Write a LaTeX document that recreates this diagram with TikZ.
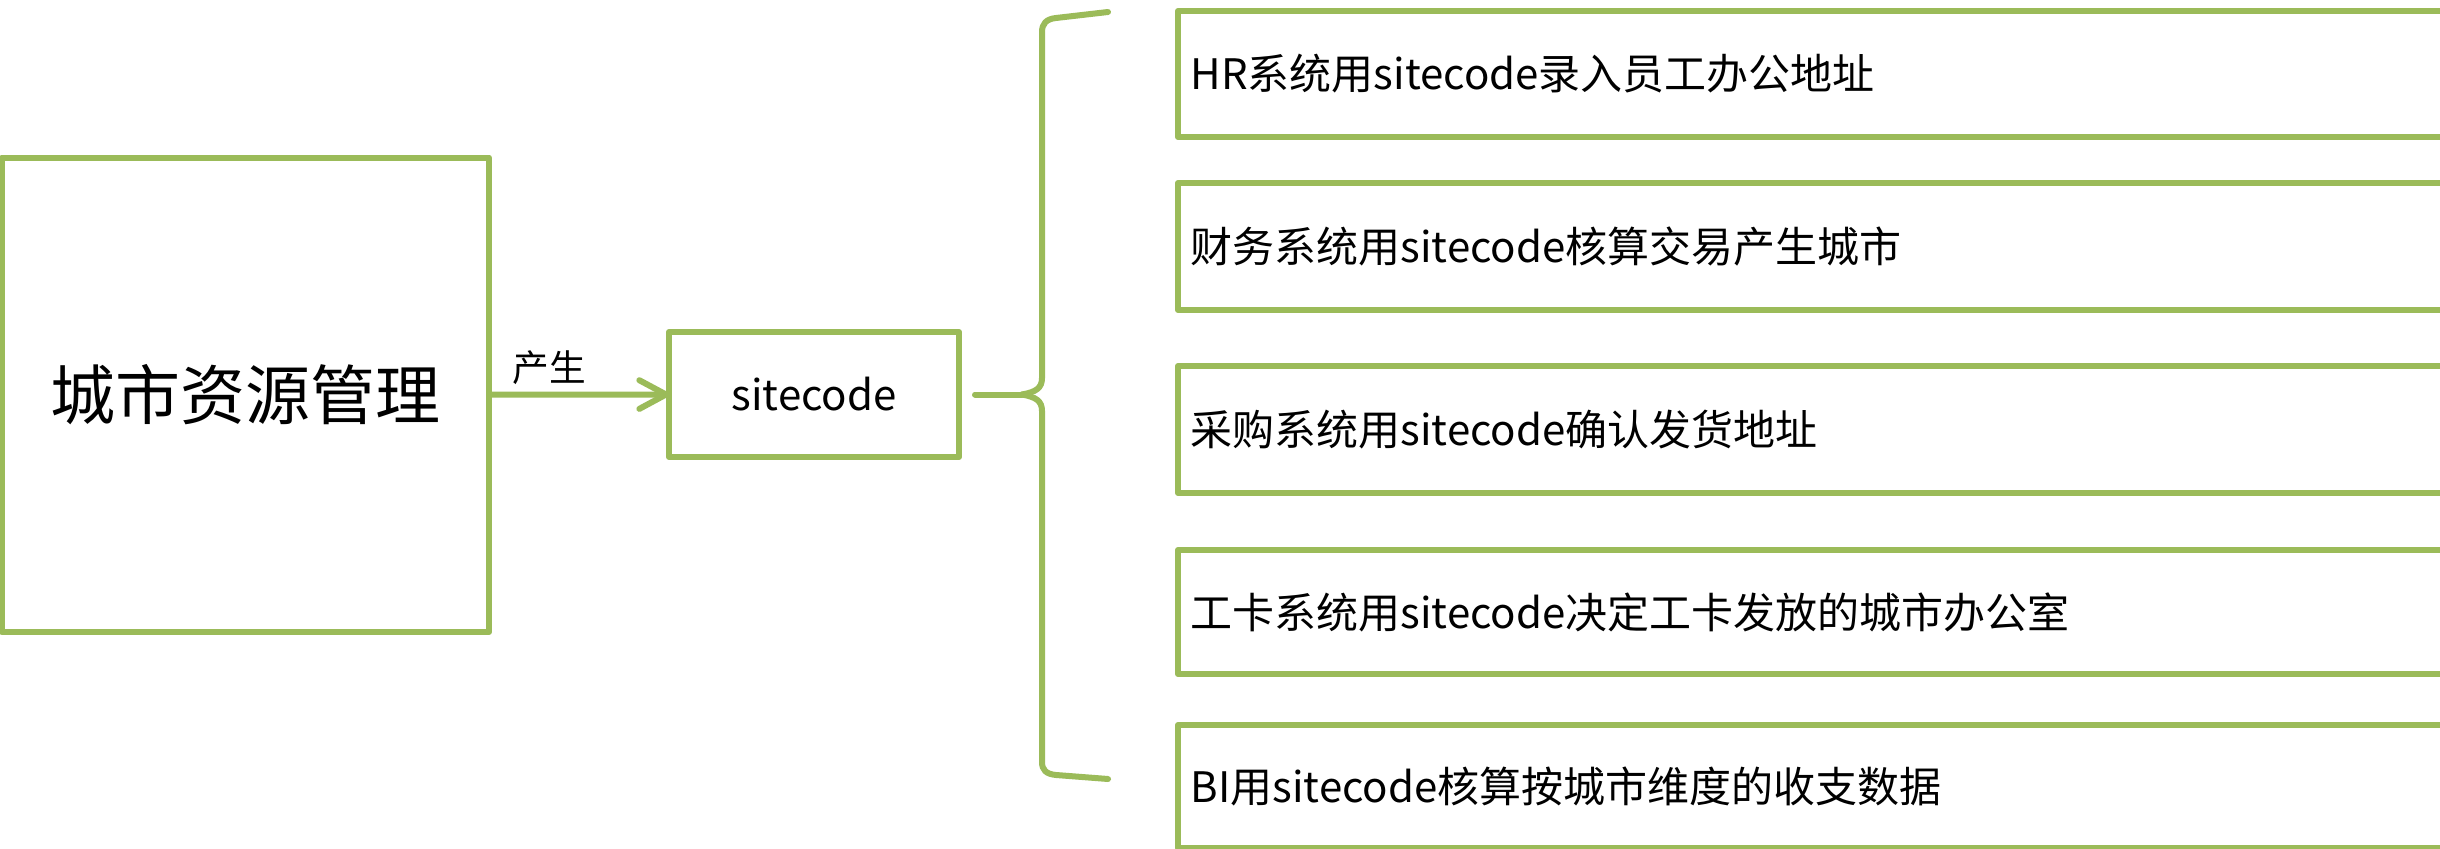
\documentclass[tikz,border=0pt]{standalone}
\usepackage{fontspec}
\setmainfont{Noto Sans CJK SC}
\usetikzlibrary{arrows.meta}
\definecolor{olive}{HTML}{9BBB59}
\tikzset{
  gbox/.style={draw=olive, line width=1.8pt, line join=round, rectangle, inner sep=0pt, outer sep=0pt},
  gline/.style={draw=olive, line width=1.8pt, line cap=round, line join=round},
  rtext/.style={anchor=west, inner sep=0pt, font=\fontsize{12.6pt}{14pt}\selectfont},
}
\begin{document}
\begin{tikzpicture}[x=0.3pt, y=-0.3pt]
\useasboundingbox (0,0) rectangle (2440,849);
\fill[white] (0,0) rectangle (2440,849);
\clip (0,0) rectangle (2440,849);

% left box
\node[gbox, minimum width=146.25pt, minimum height=142.35pt,
      font=\fontsize{19.5pt}{22pt}\selectfont] (city) at (245.25,394.75) {城市资源管理};
% sitecode box
\node[gbox, minimum width=87pt, minimum height=37.5pt,
      font=\fontsize{12.6pt}{14pt}\selectfont] (sc) at (814,394.5) {sitecode};

% arrow
\draw[gline, -{Straight Barb[length=8pt,width=8.6pt,round]}] (city.east) -- (sc.west);
\node[inner sep=0pt, font=\fontsize{11pt}{13pt}\selectfont] (lab) at (549,368) {产生};

% right boxes
\node[gbox, minimum width=387.6pt, minimum height=37.8pt] (b1) at (1824,74) {};
\node[gbox, minimum width=387.6pt, minimum height=38.1pt] (b2) at (1824,246.5) {};
\node[gbox, minimum width=387.6pt, minimum height=38.1pt] (b3) at (1824,429.5) {};
\node[gbox, minimum width=387.6pt, minimum height=37.2pt] (b4) at (1824,612) {};
\node[gbox, minimum width=387.6pt, minimum height=36.9pt] (b5) at (1824,786.5) {};

\node[rtext] (t1) at ([xshift=3.6pt]b1.west) {HR系统用sitecode录入员工办公地址};
\node[rtext] (t2) at ([xshift=3.6pt]b2.west) {财务系统用sitecode核算交易产生城市};
\node[rtext] (t3) at ([xshift=3.6pt]b3.west) {采购系统用sitecode确认发货地址};
\node[rtext] (t4) at ([xshift=3.6pt]b4.west) {工卡系统用sitecode决定工卡发放的城市办公室};
\node[rtext] (t5) at ([xshift=3.6pt]b5.west) {BI用sitecode核算按城市维度的收支数据};

% brace
\coordinate (cusp) at (1022,394.5);
\coordinate (btop) at (1108,12);
\coordinate (bbot) at (1108,779);
\draw[gline] (btop) -- (1056,18) .. controls (1046,19) and (1042,24) .. (1042,32)
  -- (1042,378) .. controls (1042,388) and (1036,392) .. (cusp);
\draw[gline] (cusp) .. controls (1036,397) and (1042,401) .. (1042,411)
  -- (1042,762) .. controls (1042,770) and (1046,774) .. (1056,775) -- (bbot);
\draw[gline, shorten <=4.8pt] (sc.east) -- (cusp);
\end{tikzpicture}
\end{document}
